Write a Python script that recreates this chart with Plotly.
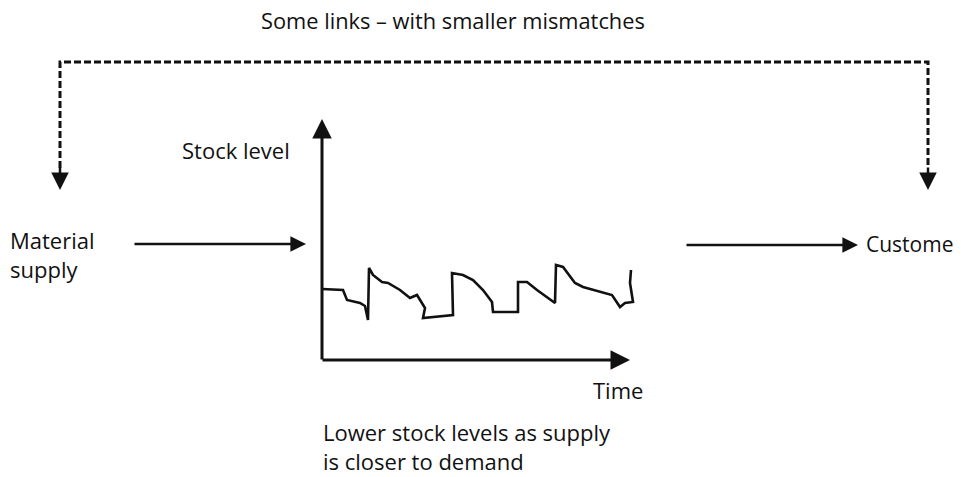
import plotly.graph_objects as go

# ---- data: stock level curve (time units, stock units) ----
time = [0, 21, 25, 38, 43, 46, 47, 51, 60, 66, 78, 88, 95, 103, 101, 111, 131, 130,
        141, 151, 161, 170, 171, 196, 196, 205, 215, 233, 234, 241, 253, 261, 278,
        290, 298, 303, 311, 308, 309]
stock = [71, 70, 60, 57, 54, 40, 92, 85, 78, 77, 70, 62, 65, 52, 42, 43, 45, 87,
         85, 80, 70, 58, 48, 48, 78, 78, 70, 57, 95, 93, 77, 73, 68, 65, 53, 57,
         58, 77, 90]

title_text = "Some links \u2013 with smaller mismatches"
y_label = "Stock level"
x_label = "Time"
left_label = "Material<br>supply"
right_label = "Custome"
caption = "Lower stock levels as supply<br>is closer to demand"

W, H = 961, 477
FONT = "Open Sans, DejaVu Sans, sans-serif"
INK = "#111111"

fig = go.Figure()

# stock curve on inner chart axes
fig.add_trace(go.Scatter(x=time, y=stock, mode="lines",
                         line=dict(color=INK, width=2.6),
                         xaxis="x2", yaxis="y2", hoverinfo="skip",
                         showlegend=False))
# invisible trace to anchor base pixel axes
fig.add_trace(go.Scatter(x=[0, W], y=[0, H], mode="markers",
                         marker=dict(opacity=0), hoverinfo="skip",
                         showlegend=False))

x0, y0 = 322, 360  # chart origin in pixels
xr, yr = 320, 240
fig.update_layout(
    width=W, height=H,
    margin=dict(l=0, r=0, t=0, b=0),
    paper_bgcolor="white", plot_bgcolor="white",
    xaxis=dict(range=[0, W], visible=False, domain=[0, 1], fixedrange=True),
    yaxis=dict(range=[H, 0], visible=False, domain=[0, 1], fixedrange=True),
    xaxis2=dict(range=[0, xr], visible=False, anchor="y2", fixedrange=True,
                domain=[x0 / W, (x0 + xr) / W]),
    yaxis2=dict(range=[0, yr], visible=False, anchor="x2", fixedrange=True,
                domain=[1 - y0 / H, 1 - (y0 - yr) / H]),
    font=dict(family=FONT, color=INK),
)

# dashed feedback path
fig.add_shape(type="path", xref="x", yref="y",
              path="M 60,168 L 60,62 L 928,62 L 928,168",
              line=dict(color=INK, width=3, dash="7px,3px"))

def arrow(xt, yt, xs, ys, w=2.5, size=1.4):
    fig.add_annotation(x=xt, y=yt, ax=xs, ay=ys, xref="x", yref="y",
                       axref="x", ayref="y", text="", showarrow=True,
                       arrowhead=2, arrowsize=size, arrowwidth=w,
                       arrowcolor=INK)

# dashed arrow heads
arrow(60, 190, 60, 166)
arrow(928, 190, 928, 166)
# chart axes
arrow(322, 119, 322, 361, w=3, size=1.3)
arrow(630, 360, 321, 360, w=3, size=1.3)
# flow arrows
arrow(306, 244, 133, 244, w=2.4, size=1.3)
arrow(858, 245, 685, 245, w=2.4, size=1.3)

def label(x, y, text, size=22, xanchor="left", align="left"):
    fig.add_annotation(x=x, y=y, xref="x", yref="y", text=text,
                       showarrow=False, xanchor=xanchor, yanchor="middle",
                       align=align, font=dict(size=size, family=FONT, color=INK))

label(453, 20, title_text, xanchor="center", size=21.8)
label(180, 150, y_label)
label(8, 254, left_label)
label(864, 244, right_label, size=21)
label(591, 390, x_label)
label(321, 446, caption)

fig.write_html("out.html",
               config={"displayModeBar": False, "staticPlot": True},
               post_script="document.body.style.margin='0';"
                           "document.body.style.overflow='hidden';")
